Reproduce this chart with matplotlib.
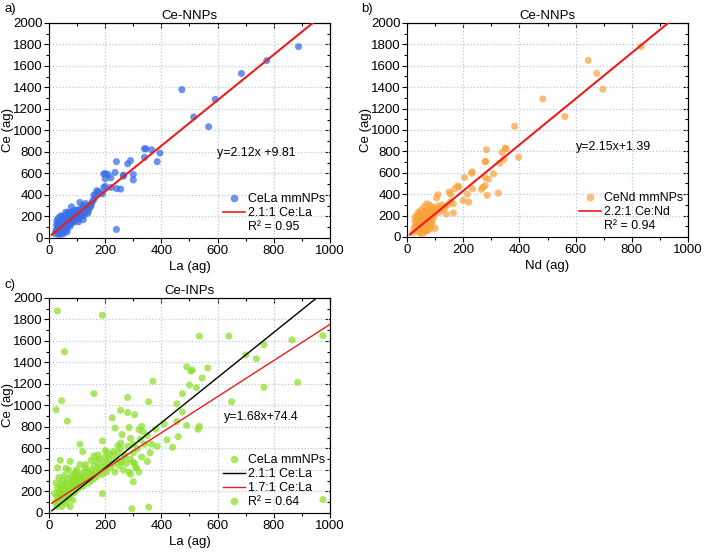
import numpy as np
import matplotlib
matplotlib.use('Agg')
import matplotlib.pyplot as plt
from matplotlib.lines import Line2D
from matplotlib.ticker import MultipleLocator

plt.rcParams['font.family'] = ['Liberation Sans', 'DejaVu Sans']
plt.rcParams['font.size'] = 9.2

# ── data (ag) ───────────────────────────────────────────────────────────────
a_pts = [
    (22, 40), (25, 70), (27, 120), (28, 160), (30, 55), (30, 95), (32, 140), (33, 185),
    (35, 60), (35, 110), (37, 80), (38, 150), (40, 45), (40, 100), (42, 170), (43, 130),
    (45, 75), (45, 115), (47, 200), (48, 90), (50, 60), (50, 140), (52, 110), (53, 175),
    (55, 85), (55, 130), (57, 210), (58, 100), (60, 150), (60, 120), (62, 180), (63, 80),
    (65, 140), (65, 210), (67, 110), (68, 160), (70, 130), (70, 190), (72, 150), (73, 230),
    (75, 110), (75, 170), (78, 200), (80, 140), (80, 290), (82, 180), (84, 220), (85, 160),
    (88, 200), (90, 150), (90, 240), (92, 190), (95, 210), (98, 170), (100, 230), (100, 200),
    (103, 260), (105, 150), (108, 220), (110, 240), (112, 200), (115, 270), (118, 230),
    (120, 250), (122, 170), (125, 280), (128, 240), (130, 320), (132, 260), (135, 290),
    (138, 230), (140, 300), (145, 280), (150, 320), (155, 340), (160, 360), (35, 30),
    (45, 35), (55, 45), (65, 60), (110, 330), (120, 300), (140, 250), (150, 300), (60, 240),
    (50, 190), (42, 205), (95, 260), (85, 250), (70, 240), (105, 180), (115, 210), (125, 210),
    (30, 75), (33, 125), (38, 65), (41, 85), (46, 150), (49, 120), (54, 160), (58, 130),
    (62, 95), (66, 175), (69, 145), (74, 195), (77, 130), (81, 210), (86, 185), (91, 220),
    (96, 185), (101, 215), (106, 240), (111, 215), (116, 250), (121, 225), (126, 260),
    (60, 200), (75, 225), (90, 205), (100, 250), (45, 160), (40, 130), (130, 270),
    (165, 395), (170, 440), (175, 430), (180, 420), (160, 400),
    (190, 410), (195, 470), (200, 480), (220, 470), (240, 460), (255, 455), (240, 80),
    (200, 550), (220, 560), (195, 595), (200, 600), (210, 590), (235, 610), (265, 585),
    (265, 575), (300, 590), (300, 540), (240, 710), (280, 690), (290, 720),
    (340, 830), (345, 830), (365, 820), (340, 750), (395, 790), (385, 710),
    (473, 1380), (515, 1125), (568, 1035), (592, 1290), (685, 1530), (775, 1650), (888, 1780),
]
a_la = [p[0] for p in a_pts]
a_ce = [p[1] for p in a_pts]

b_pts = [
    (20, 40), (25, 90), (28, 150), (30, 60), (30, 190), (32, 120), (35, 80), (35, 170),
    (38, 200), (40, 50), (40, 140), (42, 100), (45, 180), (45, 70), (48, 130), (50, 210),
    (50, 90), (52, 160), (55, 120), (55, 200), (58, 60), (60, 150), (60, 240), (62, 100),
    (65, 180), (65, 130), (68, 220), (70, 90), (70, 160), (72, 250), (75, 200), (75, 130),
    (78, 170), (80, 300), (80, 230), (82, 110), (85, 260), (88, 200), (90, 150), (90, 280),
    (92, 230), (95, 180), (98, 270), (100, 220), (100, 80), (105, 250), (110, 290),
    (115, 230), (120, 270), (125, 300), (130, 260), (135, 280), (140, 215), (145, 300),
    (155, 330), (165, 225), (165, 310), (110, 395), (105, 365), (55, 30), (45, 40),
    (65, 50), (75, 60), (85, 80), (60, 280), (50, 250), (70, 310), (40, 230),
    (33, 100), (37, 140), (43, 160), (47, 110), (53, 185), (57, 145), (63, 200),
    (67, 115), (73, 175), (77, 225), (83, 190), (87, 240), (93, 210), (97, 245),
    (58, 95), (68, 70), (62, 170), (52, 130), (42, 75), (78, 140), (88, 120),
    (150, 420), (155, 400), (170, 450), (180, 475), (185, 470), (200, 340), (205, 555),
    (215, 400), (220, 325), (233, 450), (230, 595), (232, 610), (265, 445), (270, 465),
    (278, 480), (278, 555), (285, 390), (290, 540), (308, 590), (325, 410), (278, 705),
    (280, 705), (283, 815), (330, 690), (338, 790), (345, 725), (350, 830), (352, 825),
    (397, 745), (383, 1035), (483, 1290), (562, 1125), (645, 1650), (675, 1530),
    (697, 1380), (833, 1780),
]
b_nd = [p[0] for p in b_pts]
b_ce = [p[1] for p in b_pts]

c_pts = [
    (20, 180), (22, 100), (25, 280), (28, 60), (30, 150), (30, 230), (32, 120), (35, 200),
    (35, 330), (38, 90), (40, 170), (40, 260), (42, 140), (45, 220), (45, 60), (48, 300),
    (50, 180), (50, 110), (52, 250), (55, 150), (55, 350), (58, 200), (60, 90), (60, 280),
    (62, 180), (65, 240), (65, 130), (68, 320), (70, 200), (70, 400), (72, 150), (75, 270),
    (75, 60), (78, 220), (80, 340), (80, 180), (82, 260), (85, 300), (85, 120), (88, 230),
    (90, 360), (90, 280), (92, 190), (95, 320), (95, 250), (98, 400), (100, 300), (100, 220),
    (102, 350), (105, 270), (108, 320), (110, 240), (110, 450), (112, 300), (115, 360),
    (118, 280), (120, 330), (122, 250), (125, 380), (128, 300), (130, 420), (135, 330),
    (140, 380), (140, 280), (145, 350), (150, 400), (150, 300), (155, 360), (160, 440),
    (160, 320), (165, 380), (170, 480), (170, 340), (175, 420), (180, 380), (180, 500),
    (185, 430), (190, 360), (190, 180), (195, 470), (200, 420), (200, 520), (205, 380),
    (210, 460), (215, 500), (220, 420), (225, 540), (230, 460), (235, 380), (240, 500),
    (245, 560), (250, 440), (255, 600), (260, 480), (265, 400), (270, 540), (275, 460),
    (280, 620), (285, 380), (290, 500), (300, 560), (305, 460), (310, 420), (315, 600),
    (320, 380), (330, 520), (340, 640), (350, 480), (360, 560),
    (30, 420), (40, 490), (60, 415), (75, 480), (95, 380), (130, 450), (150, 490),
    (110, 640), (120, 570), (160, 530), (175, 540), (200, 580), (210, 560), (230, 570),
    (190, 670), (270, 520), (255, 475), (300, 470), (310, 420), (290, 360), (300, 290),
    (245, 625), (255, 650), (260, 730), (290, 695), (300, 640), (325, 685), (350, 720),
    (365, 640), (385, 620), (420, 680), (440, 610), (460, 710), (235, 790), (285, 795),
    (320, 775), (330, 805), (335, 755), (380, 780), (410, 830), (455, 850), (490, 815),
    (530, 780), (535, 805), (225, 885), (65, 855), (475, 940), (305, 915), (280, 935),
    (255, 955), (25, 960), (355, 1035), (455, 1015), (650, 1035), (45, 1045), (280, 1075),
    (160, 1110), (475, 1110), (500, 1190), (525, 1165), (765, 1170), (885, 1215),
    (370, 1225), (545, 1255), (505, 1320), (510, 1330), (490, 1360), (565, 1350),
    (700, 1470), (738, 1435), (765, 1565), (865, 1610), (535, 1645), (640, 1645),
    (975, 1650), (55, 1500), (30, 1880), (190, 1840), (295, 40), (355, 55), (975, 125),
]
c_la = [p[0] for p in c_pts]
c_ce = [p[1] for p in c_pts]

fit_a = (2.12, 9.81)
fit_b = (2.15, 1.39)
fit_c = (1.68, 74.4)
ratio_c = 2.1

BLUE = '#3a6ee6'
ORANGE = '#f9a23a'
GREEN = '#8ee02e'
RED = '#ee1c1c'
GRID = '#b8c8d8'


def style_axes(ax, xlabel, title, tag, tag_xy):
    ax.set_xlim(0, 1000)
    ax.set_ylim(0, 2000)
    ax.xaxis.set_major_locator(MultipleLocator(200))
    ax.xaxis.set_minor_locator(MultipleLocator(100))
    ax.yaxis.set_major_locator(MultipleLocator(200))
    ax.yaxis.set_minor_locator(MultipleLocator(100))
    ax.grid(True, which='major', linestyle=':', color=GRID, linewidth=0.9)
    ax.set_axisbelow(True)
    ax.tick_params(which='major', direction='out', length=3.5, width=0.8, pad=1.2,
                   labelsize=9.5)
    ax.tick_params(which='minor', direction='out', length=2, width=0.8)
    # inward ticks on top and right
    sec_x = ax.secondary_xaxis('top')
    sec_y = ax.secondary_yaxis('right')
    for sec, sec_axis in ((sec_x, sec_x.xaxis), (sec_y, sec_y.yaxis)):
        sec_axis.set_major_locator(MultipleLocator(200))
        sec_axis.set_minor_locator(MultipleLocator(100))
        sec.tick_params(which='major', direction='in', length=3.5, width=0.8,
                        labeltop=False, labelright=False)
        sec.tick_params(which='minor', direction='in', length=2, width=0.8)
    for sp in ax.spines.values():
        sp.set_linewidth(0.8)
    ax.set_xlabel(xlabel, labelpad=3, fontsize=9.5)
    ax.set_ylabel('Ce (ag)', fontsize=9.5)
    ax.yaxis.set_label_coords(-0.125, 0.5)
    ax.set_title(title, fontsize=9.5, pad=3)
    ax.figure.text(tag_xy[0], tag_xy[1], tag, fontsize=9.5, ha='left', va='top')


fig = plt.figure(figsize=(7.06, 5.55), dpi=100)
ax_a = fig.add_axes([0.0694, 0.5712, 0.398, 0.3874])
ax_b = fig.add_axes([0.5765, 0.5730, 0.398, 0.3856])
ax_c = fig.add_axes([0.0694, 0.0757, 0.398, 0.3874])

blank = Line2D([], [], linestyle='none', marker='none')
leg_kw = dict(frameon=False, loc='lower right', fontsize=8.9, labelspacing=0.15,
              handlelength=1.8, handletextpad=0.25, borderaxespad=0.15,
              borderpad=0.25)
SIZE = 26


def dot(color, alpha):
    return Line2D([], [], linestyle='none', marker='o', color=color, alpha=alpha,
                  markersize=5.5, markeredgewidth=0)


# ── a) ──
ax_a.scatter(a_la, a_ce, s=SIZE, color=BLUE, alpha=0.75, edgecolors='none', zorder=3)
xa = np.array([10, (2000 - fit_a[1]) / fit_a[0]])
ax_a.plot(xa, fit_a[0] * xa + fit_a[1], color=RED, lw=1.5, zorder=4)
style_axes(ax_a, 'La (ag)', 'Ce-NNPs', 'a)', (0.006, 0.995))
ax_a.text(598, 790, f'y={fit_a[0]}x +{fit_a[1]}', ha='left', va='center', fontsize=8.9)
h_a = [dot(BLUE, 0.75), Line2D([], [], color=RED, lw=1.2), blank]
ax_a.legend(h_a, ['CeLa mmNPs', '2.1:1 Ce:La', 'R² = 0.95'], **leg_kw)

# ── b) ──
ax_b.scatter(b_nd, b_ce, s=SIZE, color=ORANGE, alpha=0.7, edgecolors='none', zorder=3)
xb = np.array([10, (2000 - fit_b[1]) / fit_b[0]])
ax_b.plot(xb, fit_b[0] * xb + fit_b[1], color=RED, lw=1.5, zorder=4)
style_axes(ax_b, 'Nd (ag)', 'Ce-NNPs', 'b)', (0.512, 0.995))
ax_b.text(601, 840, f'y={fit_b[0]}x+{fit_b[1]}', ha='left', va='center', fontsize=8.9)
h_b = [dot(ORANGE, 0.7), Line2D([], [], color=RED, lw=1.2), blank]
ax_b.legend(h_b, ['CeNd mmNPs', '2.2:1 Ce:Nd', 'R² = 0.94'], **leg_kw)

# ── c) ──
ax_c.scatter(c_la, c_ce, s=SIZE, color=GREEN, alpha=0.75, edgecolors='none', zorder=3)
xc1 = np.array([10, 2000 / ratio_c])
ax_c.plot(xc1, ratio_c * xc1, color='black', lw=1.0, zorder=4)
xc2 = np.array([10, 1000])
ax_c.plot(xc2, fit_c[0] * xc2 + fit_c[1], color=RED, lw=1.0, zorder=4)
style_axes(ax_c, 'La (ag)', 'Ce-INPs', 'c)', (0.006, 0.497))
ax_c.text(623, 893, f'y={fit_c[0]}x+{fit_c[1]}', ha='left', va='center', fontsize=8.9)
h_c = [dot(GREEN, 0.75),
       Line2D([], [], color='black', lw=1.0),
       Line2D([], [], color=RED, lw=1.0),
       dot(GREEN, 0.75)]
ax_c.legend(h_c, ['CeLa mmNPs', '2.1:1 Ce:La', '1.7:1 Ce:La', 'R² = 0.64'], **leg_kw)

fig.savefig('out.png', dpi=100)
